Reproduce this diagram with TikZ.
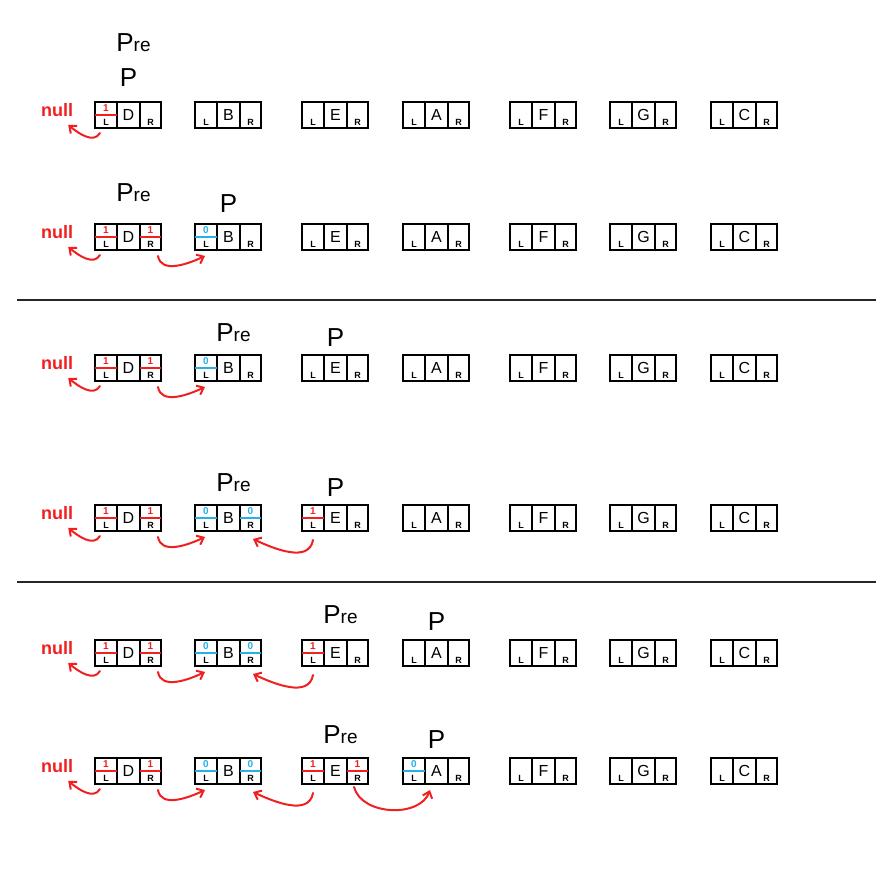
\documentclass[tikz,border=0pt]{standalone}
\usepackage{fontspec}
\setmainfont{Liberation Sans}
\usetikzlibrary{positioning, calc, arrows.meta}

\definecolor{tagred}{RGB}{240,32,32}
\definecolor{tagblue}{RGB}{40,175,230}

\tikzset{
  cell/.style={draw, line width=2pt, minimum height=26pt, inner sep=0pt, outer sep=0pt},
  lcell/.style={cell, minimum width=22pt, anchor=west},
  mcell/.style={cell, minimum width=23pt, font=\fontsize{16}{16}\selectfont},
  rcell/.style={cell, minimum width=21pt},
  lr/.style={anchor=south, font=\fontsize{9}{9}\selectfont\bfseries, inner sep=2pt},
  ptr/.style={font=\fontsize{26}{26}\selectfont, inner sep=0pt},
  nullnode/.style={text=tagred, font=\fontsize{18}{18}\selectfont\bfseries, inner sep=1pt},
  link/.style={draw=tagred, line width=2pt, line cap=round, -{Straight Barb[length=6pt, width=10pt]}},
  sep/.style={line width=2pt, black!85},
}

% one thread node: L | letter | R
\newcommand{\tbox}[4]{%
  \node[lcell, label={[lr]south:L}] (#1l) at (#2,#3) {};
  \node[mcell, right=0pt of #1l] (#1) {#4};
  \node[rcell, right=0pt of #1, label={[lr]south:R}] (#1r) {};
}
% tag mark in a cell
\newcommand{\tagmark}[3]{%
  \draw[#2, line width=1.6pt] (#1.west) -- (#1.east);
  \node[text=#2, font=\fontsize{10}{10}\selectfont\bfseries, inner sep=0pt]
    at ($(#1.center)!0.5!(#1.north)$) {#3};
}
\newcommand{\prelabel}{P{\fontsize{19}{19}\selectfont re}}

\begin{document}
\begin{tikzpicture}[x=1pt, y=1pt]
\useasboundingbox (0,0) rectangle (876,-877);

% rows of nodes
\foreach \r/\y in {1/115,2/237,3/368,4/518,5/653,6/771}{
  \foreach \n/\x in {D/95,B/195,E/302,A/403,F/510,G/610,C/711}
    \tbox{\n\r}{\x}{-\y}{\n};
  \node[nullnode] (null\r) at (57,-\y+5) {null};
}

% separators
\draw[sep] (17,-300) -- (876,-300);
\draw[sep] (17,-582) -- (876,-582);

% pre and p
\foreach \r/\a/\ga/\b/\gb in {1/D/50/D/15, 2/D/22/B/11, 3/B/13/E/8, 4/B/13/E/8, 5/E/16/A/9, 6/E/14/A/9}{
  \node[ptr, above=\ga pt of \a\r, xshift=5pt] (pre\r) {\prelabel};
  \node[ptr, above=\gb pt of \b\r] (p\r) {P};
}

% tags
\tagmark{D1l}{tagred}{1}
\foreach \r in {2,...,6}{
  \tagmark{D\r l}{tagred}{1}
  \tagmark{D\r r}{tagred}{1}
  \tagmark{B\r l}{tagblue}{0}
}
\foreach \r in {4,5,6}{
  \tagmark{B\r r}{tagblue}{0}
  \tagmark{E\r l}{tagred}{1}
}
\tagmark{E6r}{tagred}{1}
\tagmark{A6l}{tagblue}{0}

% threads
\foreach \r in {1,...,6}
  \draw[link] ([xshift=5pt,yshift=-5pt]D\r l.south west) to[out=-120,in=-40] ([xshift=-6pt,yshift=-7pt]null\r.south east);
\foreach \r in {2,...,6}
  \draw[link] ([xshift=-3pt,yshift=-6pt]D\r r.south east) to[out=-80,in=-155] ([xshift=10pt,yshift=-6pt]B\r l.south west);
\foreach \r in {4,5,6}
  \draw[link] ([xshift=11pt,yshift=-9pt]E\r l.south west) to[out=-100,in=-25] ([xshift=-8pt,yshift=-8pt]B\r r.south east);
\draw[link] ([xshift=-14pt,yshift=-3pt]E6r.south east) to[out=-75,in=-110] ([xshift=27pt,yshift=-6pt]A6l.south west);
\end{tikzpicture}
\end{document}
